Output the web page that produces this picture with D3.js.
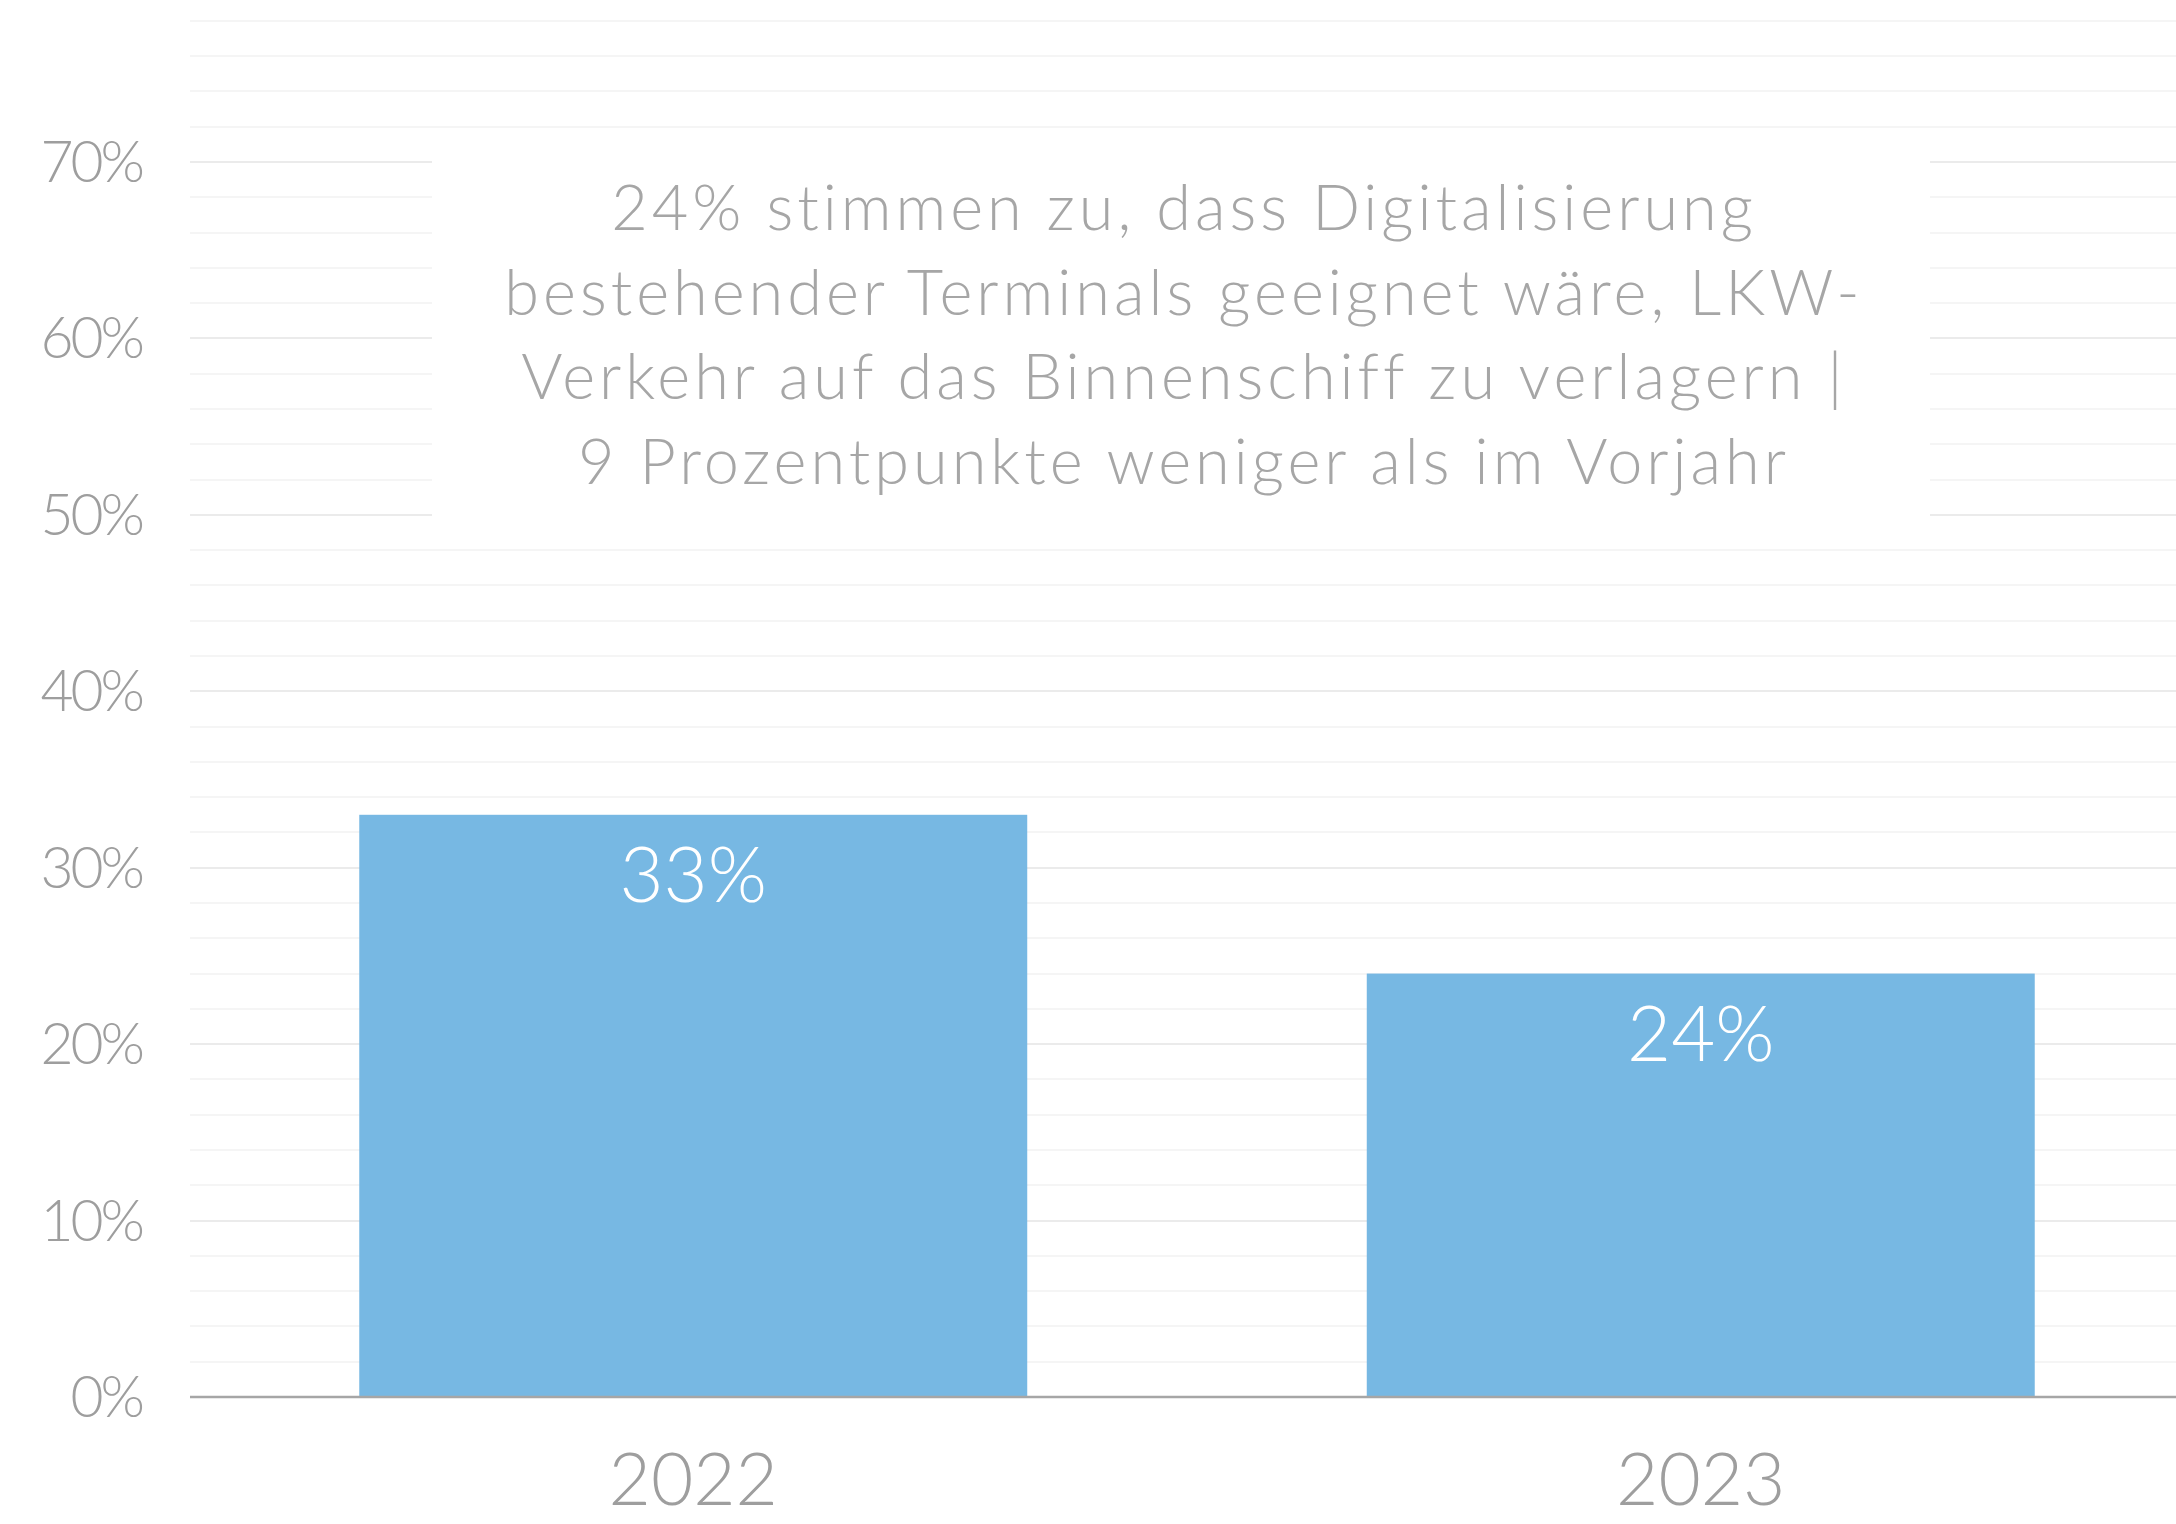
<!DOCTYPE html>
<html>
<head>
<meta charset="utf-8">
<script src="https://cdn.jsdelivr.net/npm/d3@7"></script>
<style>
  html, body { margin: 0; padding: 0; background: #fff; }
  svg { display: block; font-family: "Lato", "Open Sans", sans-serif; font-weight: 300; }
</style>
</head>
<body>
<svg id="chart" width="2176" height="1524"></svg>
<script>
// data
var years = ["2022", "2023"];
var shares = [0.33, 0.24];
var yTicks = [0, 0.1, 0.2, 0.3, 0.4, 0.5, 0.6, 0.7];
var gridSteps = d3.range(1, 40).map(function(i){ return i * 0.02; });
var titleLines = [
    "24% stimmen zu, dass Digitalisierung",
    "bestehender Terminals geeignet wäre, LKW-",
    "Verkehr auf das Binnenschiff zu verlagern  |",
    "9 Prozentpunkte weniger als im Vorjahr"
];

var svg = d3.select("#chart");
var width = +svg.attr("width");

var x = d3.scaleBand()
    .domain(years)
    .range([190, 2204])
    .paddingInner(0.337)
    .paddingOuter(0.168);

var y = d3.scaleLinear()
    .domain([0, 0.7])
    .range([1397, 162]);

var pct = d3.format(".0%");

// grid lines, every 2%, darker on each 10%
svg.append("g")
    .selectAll("line")
    .data(gridSteps)
    .enter()
    .append("line")
    .attr("x1", 190)
    .attr("x2", width)
    .attr("y1", function(d){ return Math.round(y(d)); })
    .attr("y2", function(d){ return Math.round(y(d)); })
    .attr("stroke", function(d){
        return Math.abs(d * 10 - Math.round(d * 10)) < 1e-6 ? "#ebebeb" : "#f5f5f5";
    })
    .attr("stroke-width", 2);

// white box behind the headline
svg.append("rect")
    .attr("x", 432)
    .attr("y", 140)
    .attr("width", 1498)
    .attr("height", 392)
    .attr("fill", "#fff");

svg.append("g")
    .selectAll("text")
    .data(titleLines)
    .enter()
    .append("text")
    .attr("x", 1184)
    .attr("y", function(d, i){ return 230 + i * 84.5; })
    .attr("text-anchor", "middle")
    .attr("fill", "#a6a6a6")
    .attr("font-size", 63)
    .attr("letter-spacing", 4)
    .text(function(d){ return d; });

// y axis labels
svg.append("g")
    .selectAll("text")
    .data(yTicks)
    .enter()
    .append("text")
    .attr("x", 142)
    .attr("y", function(d){ return y(d) + 20; })
    .attr("text-anchor", "end")
    .attr("fill", "#9e9e9e")
    .attr("font-size", 57)
    .attr("letter-spacing", -3)
    .text(function(d){ return pct(d); });

// bars
svg.append("g")
    .selectAll("rect")
    .data(shares)
    .enter()
    .append("rect")
    .attr("x", function(d, i){ return x(years[i]); })
    .attr("y", function(d){ return y(d); })
    .attr("width", x.bandwidth())
    .attr("height", function(d){ return y(0) - y(d); })
    .attr("fill", "#77b8e3");

svg.append("g")
    .selectAll("text")
    .data(shares)
    .enter()
    .append("text")
    .attr("x", function(d, i){ return x(years[i]) + x.bandwidth() / 2; })
    .attr("y", function(d){ return y(d) + 87; })
    .attr("text-anchor", "middle")
    .attr("fill", "#fff")
    .attr("font-size", 76)
    .text(function(d){ return pct(d); });

// baseline
svg.append("line")
    .attr("x1", 190)
    .attr("x2", width)
    .attr("y1", y(0))
    .attr("y2", y(0))
    .attr("stroke", "#a6a6a6")
    .attr("stroke-width", 2.5);

// year labels
svg.append("g")
    .selectAll("text")
    .data(years)
    .enter()
    .append("text")
    .attr("x", function(d){ return x(d) + x.bandwidth() / 2; })
    .attr("y", 1505)
    .attr("text-anchor", "middle")
    .attr("fill", "#9e9e9e")
    .attr("font-size", 73)
    .text(function(d){ return d; });
</script>
</body>
</html>
